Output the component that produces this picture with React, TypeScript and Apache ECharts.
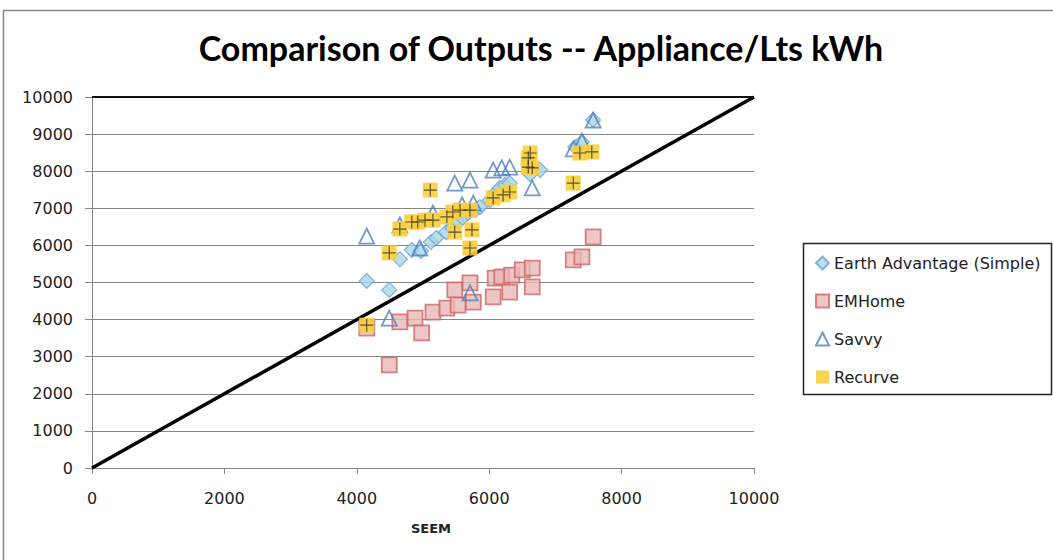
import React, { useEffect, useRef } from "react";
import * as echarts from "echarts";

// SEEM kWh (x) against each tool's appliance/lighting kWh (y)
const earthAdvantage: number[][] = [
  [4150, 5040], [4490, 4800], [4650, 5630], [4830, 5880], [4970, 5850], [5120, 6090],
  [5200, 6200], [5350, 6360], [5440, 6470], [5530, 6630], [5600, 6740], [5680, 6870],
  [5790, 6950], [5860, 7030], [6010, 7220], [6090, 7410], [6160, 7550], [6240, 7630],
  [6310, 7680], [6620, 7920], [6770, 8030], [7300, 8650], [7400, 8790], [7570, 9380],
];

const emHome: number[][] = [
  [4150, 3770], [4490, 2780], [4650, 3940], [4880, 4040], [4980, 3640], [5150, 4200],
  [5360, 4310], [5480, 4800], [5530, 4390], [5710, 4990], [5760, 4470], [6060, 4610],
  [6090, 5120], [6190, 5150], [6310, 4740], [6340, 5200], [6500, 5340], [6650, 5390],
  [6650, 4880], [7270, 5610], [7400, 5690], [7570, 6230],
];

const savvy: number[][] = [
  [4150, 6250], [4490, 4040], [4650, 6550], [4950, 5930], [5150, 6870], [5480, 7680],
  [5590, 7090], [5710, 7760], [5710, 4720], [5760, 7140], [6060, 8030], [6190, 8090],
  [6310, 8110], [6650, 7550], [7270, 8600], [7400, 8810], [7570, 9380],
];

const recurve: number[][] = [
  [4150, 3850], [4490, 5800], [4650, 6440], [4830, 6630], [4920, 6630], [5030, 6680],
  [5110, 7490], [5150, 6680], [5360, 6770], [5450, 6900], [5480, 6360], [5560, 6950],
  [5710, 6950], [5740, 6420], [5710, 5930], [6060, 7280], [6210, 7360], [6310, 7440],
  [6590, 8110], [6590, 8360], [6620, 8490], [6650, 8090], [7270, 7680], [7370, 8490],
  [7550, 8520],
];

// one-to-one reference line
const parityLine: number[][] = [[0, 0], [10000, 10000]];

const seriesNames = ["Earth Advantage (Simple)", "EMHome", "Savvy", "Recurve"];
const titleText = "Comparison of Outputs -- Appliance/Lts kWh";
const xAxisName = "SEEM";

const axisFont = "'DejaVu Sans', Verdana, sans-serif";
const crossPath = "path://M5,0H6V11H5Z M0,5H11V6H0Z";
const plainNumber = (v: number) => String(v);

export default function App() {
  const ref = useRef<HTMLDivElement>(null);

  useEffect(() => {
    if (!ref.current) return;
    const chart = echarts.init(ref.current, undefined, { renderer: "svg" });
    chart.setOption({
      animation: false,
      backgroundColor: "#ffffff",
      title: {
        text: titleText,
        left: 536,
        top: 25,
        textAlign: "center",
        textStyle: {
          fontFamily: "Lato, 'Open Sans', sans-serif",
          fontSize: 34,
          fontWeight: "bold",
          color: "#000",
        },
      },
      grid: { left: 92, top: 97, width: 662, height: 371 },
      legend: {
        orient: "vertical",
        left: 815,
        top: 255,
        padding: 0,
        itemWidth: 13,
        itemHeight: 13,
        itemGap: 22,
        data: seriesNames,
        textStyle: { fontFamily: axisFont, fontSize: 16, color: "#222", lineHeight: 16 },
      },
      xAxis: {
        type: "value",
        min: 0,
        max: 10000,
        interval: 2000,
        name: xAxisName,
        nameLocation: "middle",
        nameGap: 54,
        nameTextStyle: {
          fontFamily: axisFont,
          fontSize: 13,
          fontWeight: "bold",
          color: "#222",
          padding: [0, 0, 0, 16],
        },
        axisLine: { show: true, lineStyle: { color: "#868686", width: 1 } },
        axisTick: { show: true, length: 6, lineStyle: { color: "#868686" } },
        axisLabel: { margin: 22, fontFamily: axisFont, fontSize: 16, color: "#222", formatter: plainNumber },
        splitLine: { show: false },
      },
      yAxis: {
        type: "value",
        min: 0,
        max: 10000,
        interval: 1000,
        axisLine: { show: true, lineStyle: { color: "#868686", width: 1 } },
        axisTick: { show: true, length: 7, lineStyle: { color: "#868686" } },
        axisLabel: { margin: 19, fontFamily: axisFont, fontSize: 16, color: "#222", formatter: plainNumber },
        splitLine: { show: true, lineStyle: { color: "#868686", width: 1 } },
      },
      series: [
        {
          type: "line",
          name: "parity",
          data: parityLine,
          symbol: "none",
          silent: true,
          z: 1,
          lineStyle: { color: "#000", width: 3.5 },
          markLine: {
            silent: true,
            symbol: "none",
            label: { show: false },
            lineStyle: { color: "#111", width: 2, type: "solid" },
            data: [{ yAxis: 10000 }],
          },
        },
        {
          type: "scatter",
          name: seriesNames[0],
          data: earthAdvantage,
          symbol: "diamond",
          symbolSize: 15,
          z: 3,
          itemStyle: { color: "#a6d6e6", borderColor: "#6fa3d2", borderWidth: 1.2 },
        },
        {
          type: "scatter",
          name: seriesNames[1],
          data: emHome,
          symbol: "rect",
          symbolSize: 15,
          z: 3,
          itemStyle: { color: "#e9b8b8", borderColor: "#cf6767", borderWidth: 1.8 },
        },
        {
          type: "scatter",
          name: seriesNames[2],
          data: savvy,
          symbol: "triangle",
          symbolSize: 15,
          z: 3,
          itemStyle: { color: "rgba(255,255,255,0)", borderColor: "#4f81bd", borderWidth: 1.8 },
        },
        {
          type: "scatter",
          name: seriesNames[3],
          data: recurve,
          symbol: "rect",
          symbolSize: 15,
          z: 3,
          itemStyle: { color: "#f8cf3e", opacity: 0.9 },
        },
        {
          type: "scatter",
          name: seriesNames[3],
          data: recurve,
          symbol: crossPath,
          symbolSize: 13,
          z: 4,
          itemStyle: { color: "#3a3326" },
        },
      ],
      graphic: [
        {
          type: "rect",
          shape: { x: 3.5, y: 10.5, width: 1070, height: 570 },
          style: { fill: "none", stroke: "#8a8a8a", lineWidth: 1.5 },
          silent: true,
        },
        {
          type: "rect",
          shape: { x: 803.5, y: 243.5, width: 248, height: 151 },
          style: { fill: "none", stroke: "#222", lineWidth: 1.5 },
          silent: true,
        },
      ],
    });
    return () => chart.dispose();
  }, []);

  return (
    <div
      ref={ref}
      style={{ position: "fixed", left: 0, top: 0, width: 1053, height: 560 }}
    />
  );
}
